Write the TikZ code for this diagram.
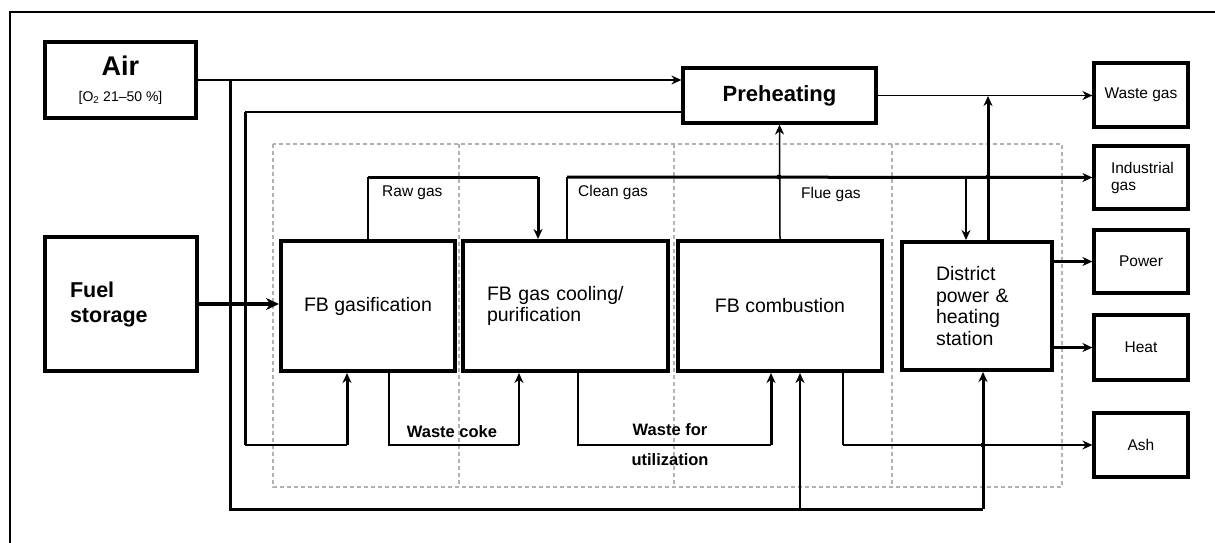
\documentclass[tikz,border=0pt]{standalone}
\usepackage{fontspec}
\setmainfont{Liberation Sans}
\usetikzlibrary{arrows.meta,calc}
\begin{document}
\begin{tikzpicture}[x=1pt,y=-1pt,
  box/.style={draw=black,fill=white,line width=4pt,inner sep=0pt,align=center},
  obox/.style={draw=black,fill=white,line width=3.2pt,inner sep=0pt,align=center,font=\fontsize{15.5}{17}\selectfont},
  thinln/.style={line width=1.5pt},
  midln/.style={line width=2pt},
  thickln/.style={line width=3pt},
  arr/.style={-{Stealth[length=10pt,width=9pt]}},
  lbl/.style={inner sep=0pt,font=\fontsize{15.5}{17}\selectfont},
  blbl/.style={inner sep=0pt,font=\bfseries\fontsize{16.5}{18}\selectfont},
  dot/.style={circle,fill=black,inner sep=0pt,minimum size=5pt},
  zone/.style={draw=black!30,dashed,line width=1.2pt,dash pattern=on 4pt off 3pt}
]
\useasboundingbox (0,0) rectangle (1215,543);
% frame
\draw[line width=1.5pt] (10,543) -- (10,12) -- (1215,12);
% dashed zones
\draw[zone] (273,144) rectangle (1062,487);
\draw[zone] (459,144) -- (459,487);
\draw[zone] (674,144) -- (674,487);
\draw[zone] (892,144) -- (892,487);

% nodes
\node[box,line width=3.6pt,minimum width=151,minimum height=76,font=\bfseries\fontsize{27}{26}\selectfont] (air) at (120.5,80)
  {Air\\{\mdseries\fontsize{14}{26}\selectfont [O\textsubscript{2} 21–50 \%]}};
\node[box,minimum width=152,minimum height=134,text width=102,align=left,font=\bfseries\fontsize{21.5}{25}\selectfont] (fuel) at (121,304) {Fuel\\storage};
\node[box,minimum width=174,minimum height=130,font=\fontsize{19.5}{21}\selectfont] (gasif) at (368,306) {FB gasification};
\node[box,minimum width=205,minimum height=130,text width=157,align=left,font=\fontsize{19.5}{21}\selectfont] (cool) at (565.5,306) {FB gas cooling/\\purification};
\node[box,minimum width=204,minimum height=130,font=\fontsize{19.5}{21}\selectfont] (comb) at (780,306) {FB combustion};
\node[box,minimum width=150,minimum height=128,text width=82,align=left,font=\fontsize{19.5}{21.5}\selectfont] (dist) at (977,306) {District\\power \&\\heating\\station};
\node[box,line width=3.2pt,minimum width=193,minimum height=55,font=\bfseries\fontsize{22}{24}\selectfont] (preh) at (779.5,95.5) {Preheating};
\node[obox,minimum width=94,minimum height=64] (wgas) at (1141,95) {Waste gas};
\node[obox,minimum width=94,minimum height=63,text width=60,align=left] (igas) at (1141,177.5) {Industrial\\gas\\[4pt]};
\node[obox,minimum width=94,minimum height=63] (power) at (1141,261.5) {Power};
\node[obox,minimum width=94,minimum height=65] (heat) at (1141,347.5) {Heat};
\node[obox,minimum width=94,minimum height=64] (ash) at (1141,445) {Ash};

% coordinates
\coordinate (jA) at (230,80);
\coordinate (bA) at (230,509);
\coordinate (bC) at (800,509);
\coordinate (bD) at (983,509);
\coordinate (pA) at (683,112);
\coordinate (l1) at (245,112);
\coordinate (l2) at (245,445);
\coordinate (l3) at (347,445);
\coordinate (r1) at (368,177);
\coordinate (r2) at (538,177);
\coordinate (c0) at (567,241);
\coordinate (c1) at (567,177);
\coordinate (jF) at (779,177);
\coordinate (jD) at (988,177);
\coordinate (jW) at (988,96);
\coordinate (dD) at (966,177);
\coordinate (k1) at (389,445);
\coordinate (k2) at (519,445);
\coordinate (u1) at (578,445);
\coordinate (u2) at (771,445);
\coordinate (a1) at (843,445);
\coordinate (jAsh) at (983,445);

% connectors
\draw[thinln,arr] (air.east) -- (air.east -| preh.west);
\draw[thickln] (jA) -- (bA) -- (bD);
\draw[thickln,arr] (bD) -- (dist.south -| bD);
\draw[thinln,arr] (bC) -- (comb.south -| bC);
\draw[midln] (pA) -- (l1);
\draw[thickln] (l1) -- (l2);
\draw[midln] (l2) -- (l3);
\draw[thickln,arr] (l3) -- (gasif.south -| l3);
\draw[line width=4.5pt,-{Stealth[length=13pt,width=12pt]}] (fuel.east) -- (fuel.east -| gasif.west);
\draw[midln] (gasif.north) -- (r1);
\draw[thickln] (r1) -- (r2);
\draw[thickln,arr] (r2) -- (cool.north -| r2);
\draw[midln] (c0) -- (c1);
\draw[thickln,arr] (c1) -- (igas.west);
\draw[thinln,arr] (comb.north) -- (preh.south);
\draw[thinln,arr] (preh.east) -- (preh.east -| wgas.west);
\draw[thickln,arr] (dist.north -| jD) -- (jW);
\draw[thinln,arr] (dD) -- (dist.north -| dD);
\draw[thickln,arr] (dist.east |- power.west) -- (power.west);
\draw[thickln,arr] (dist.east |- heat.west) -- (heat.west);
\draw[thinln] (gasif.south -| k1) -- (k1) -- (k2);
\draw[thinln,arr] (k2) -- (cool.south -| k2);
\draw[thinln] (cool.south -| u1) -- (u1) -- (u2);
\draw[thickln,arr] (u2) -- (comb.south -| u2);
\draw[thinln] (comb.south -| a1) -- (a1);
\draw[thinln,arr] (a1) -- (a1 -| ash.west);
\node[dot] at (jF) {};
\node[dot] at (jD) {};
\node[dot] at (jAsh) {};

% labels
\node[lbl,anchor=west] (lraw) at (382,193) {Raw gas};
\node[lbl,anchor=west] (lclean) at (578,192) {Clean gas};
\node[lbl,anchor=west] (lflue) at (801,194) {Flue gas};
\node[blbl] (lcoke) at (452,432) {Waste coke};
\node[blbl] (lwaste) at (670,430) {Waste for};
\node[blbl] (lutil) at (670,460) {utilization};
\end{tikzpicture}
\end{document}
